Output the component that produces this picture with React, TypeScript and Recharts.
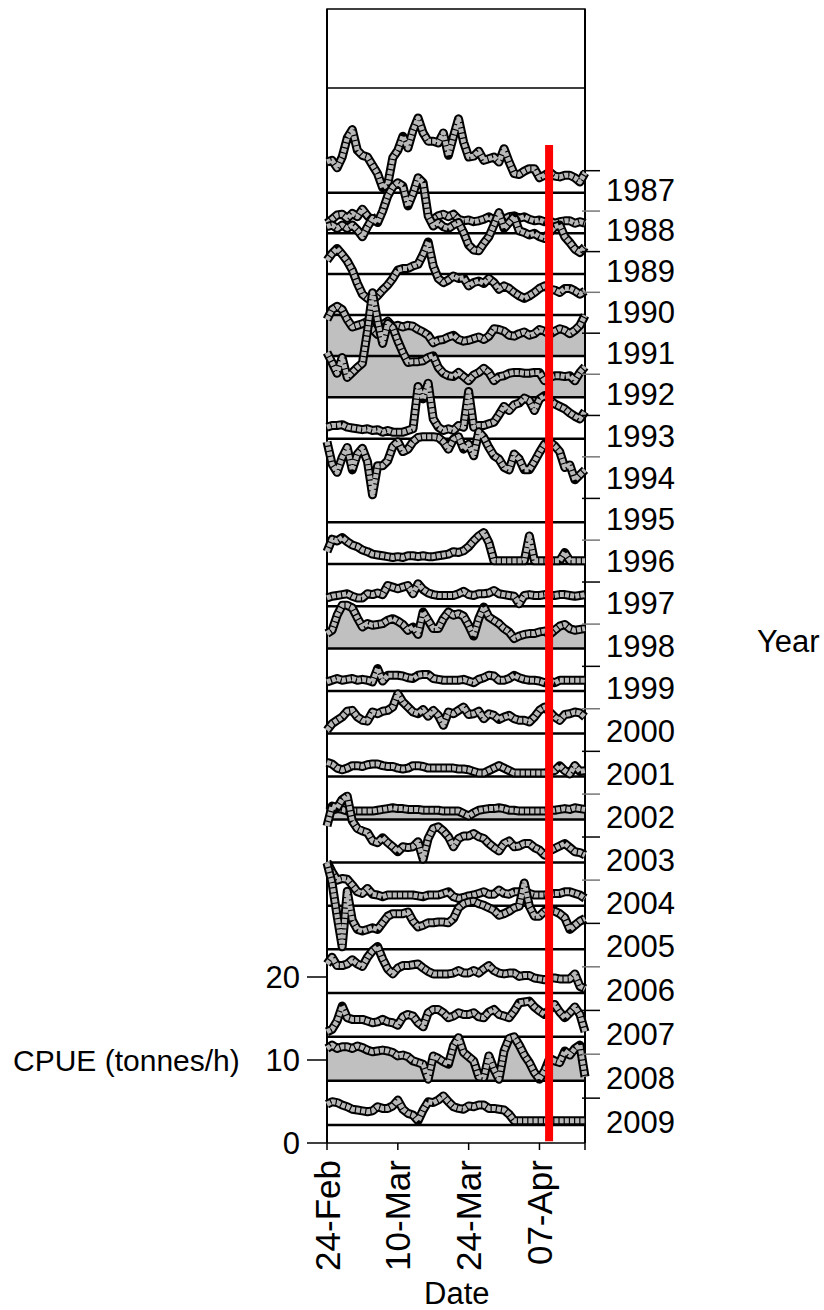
import { ComposedChart, Line, Area, XAxis, YAxis, ReferenceLine, ReferenceArea } from 'recharts'

const FONT = '"Liberation Sans", Arial, sans-serif'

// x axis: days counted from 24-Feb
const dayTicks = [0, 14, 28, 42, 51]
const dayLabels = ['24-Feb', '10-Mar', '24-Mar', '07-Apr']
const cpueTicks = [0, 10, 20]
const markerDay = 43.9

const years = [1987, 1988, 1989, 1990, 1991, 1992, 1993, 1994, 1995, 1996, 1997, 1998,
  1999, 2000, 2001, 2002, 2003, 2004, 2005, 2006, 2007, 2008, 2009]
const filledYears = [1991, 1992, 1998, 2002, 2008]

// daily CPUE (tonnes/h) per season, 24-Feb .. 15-Apr
const cpue1987 = [3.7, 3.9, 3.0, 4.3, 6.6, 7.6, 5.1, 4.5, 4.3, 3.3, 2.3, 0.6, 1.0, 4.2, 5.1, 6.8, 5.4, 7.5, 9.0, 7.2, 6.2, 6.2, 6.0, 7.2, 4.5, 6.8, 8.9, 6.1, 4.3, 4.4, 5.0, 3.9, 4.1, 4.3, 3.7, 5.3, 3.7, 2.3, 2.2, 2.6, 2.9, 2.9, 1.8, 2.1, 2.5, 2.0, 1.9, 2.1, 2.1, 1.8, 1.3, 2.4]
const cpue1988 = [1.2, 1.7, 2.2, 2.3, 1.8, 2.4, 2.0, 2.9, 2.1, 1.5, 2.0, null, null, null, null, null, null, null, null, null, 1.5, 1.7, 2.1, 2.3, 2.0, 2.3, 1.7, 1.5, 1.6, 1.4, 1.5, 1.7, 2.0, 1.6, 2.2, 1.7, 2.0, 2.1, 1.8, 2.0, 1.7, 1.5, 1.6, 1.4, 1.5, 1.2, 1.4, 1.5, 1.5, 1.2, 1.4, 1.2]
const cpue1989 = [5.7, 5.9, 5.5, 5.9, 5.5, 5.9, 5.3, 4.5, 5.7, 6.7, 6.2, 7.6, 9.4, 10.5, 11.0, 10.6, 8.2, 9.7, 11.6, 11.0, 7.0, 5.8, 6.2, 5.7, 5.5, 5.9, 6.2, 5.0, 3.5, 2.9, 2.8, 3.7, 4.5, 5.9, 7.4, 5.5, 6.2, 6.9, 5.2, 5.0, 4.7, 4.9, 4.5, 4.3, 5.0, 5.7, 5.9, 4.5, 3.8, 3.0, 2.6, 3.3]
const cpue1990 = [6.6, 7.4, 8.0, 7.3, 6.5, 5.4, 3.8, 2.5, 2.0, 1.8, 2.3, 3.0, 3.6, 4.4, 5.4, 5.6, 5.6, 5.9, 6.1, 7.3, 8.8, 5.9, 4.4, 3.9, 4.2, 4.7, 4.4, 4.5, 3.5, 3.9, 4.1, 3.8, 4.4, 3.9, 3.1, 3.5, 3.2, 2.7, 2.3, 2.0, 2.3, 2.7, 3.2, 3.5, 3.1, 3.0, 2.7, 3.2, 3.2, 2.9, 2.5, 2.9]
const cpue1991 = [4.4, 5.6, 6.0, 5.6, 4.4, 3.5, 3.7, 3.9, 4.2, 3.2, 2.6, 3.8, 4.2, 3.5, 3.7, 3.5, 3.7, 3.6, 3.2, 2.9, 2.5, 1.6, 1.9, 2.0, 2.3, 2.5, 2.0, 1.8, 1.9, 2.1, 2.3, 2.0, 2.4, 3.3, 3.2, 3.0, 2.5, 2.4, 2.7, 2.9, 2.5, 2.7, 3.2, 3.0, 2.6, 3.0, 3.3, 3.1, 2.7, 3.1, 3.7, 4.9]
const cpue1992 = [5.4, 4.2, 2.9, 4.8, 2.4, 3.0, 3.6, 4.1, 8.0, 12.6, 9.2, 6.5, 8.9, 8.4, 6.8, 5.4, 4.2, 4.3, 4.3, 4.4, 4.8, 5.0, 3.6, 2.9, 2.6, 2.5, 3.0, 2.5, 2.0, 2.7, 3.0, 3.5, 3.0, 2.0, 2.5, 2.6, 2.9, 3.0, 3.0, 2.9, 2.9, 3.0, 3.0, 2.0, 2.4, 2.6, 2.6, 2.5, 2.6, 2.0, 3.0, 3.7]
const cpue1993 = [1.4, 1.6, 1.6, 1.7, 1.4, 1.3, 1.2, 1.1, 1.2, 1.0, 1.1, 0.8, 1.0, 0.8, 0.8, 0.8, 1.0, 1.2, 6.3, 4.8, 6.7, 2.4, 1.4, 1.0, 1.2, 1.0, 1.6, 1.4, 5.7, 1.4, 1.6, 1.6, 1.8, 2.0, 2.9, 3.9, 3.4, 4.1, 4.3, 4.9, 4.6, 3.4, 4.8, 5.2, 4.8, 4.2, 3.9, 3.6, 3.1, 2.7, 2.4, 3.3]
const cpue1994: (number | null)[] = []
const cpue1995 = [9.7, 7.0, 6.0, 7.8, 9.0, 6.3, 8.2, 8.9, 7.3, 3.3, 6.8, 6.8, 7.4, 9.1, 9.7, 8.5, 8.8, 9.7, 10.2, 10.3, 10.3, 10.3, 10.2, 9.7, 8.8, 10.0, 10.3, 8.8, 9.4, 8.0, 10.9, 10.2, 9.0, 8.0, 7.6, 6.6, 6.3, 8.2, 7.6, 6.3, 6.3, 7.3, 8.4, 9.4, 9.7, 9.2, 8.5, 6.6, 6.9, 5.1, 5.7, 6.3]
const cpue1996 = [1.5, 3.0, 2.8, 3.2, 2.7, 2.3, 2.1, 1.7, 1.5, 1.2, 1.1, 1.0, 0.9, 0.8, 0.9, 0.8, 1.0, 1.0, 0.9, 1.0, 0.9, 0.9, 1.0, 1.1, 1.2, 1.5, 1.4, 1.6, 2.1, 2.8, 3.4, 3.8, 2.6, 0.4, 0.4, 0.4, 0.4, 0.4, 0.4, 0.4, 3.4, 0.4, 0.4, 0.4, 0.4, 0.4, 0.4, 1.4, 0.4, 0.4, 0.4, 0.4]
const cpue1997 = [1.0, 1.2, 1.3, 1.4, 1.5, 1.2, 1.0, 1.0, 1.5, 1.4, 1.6, 1.4, 2.5, 2.3, 2.1, 2.3, 2.5, 1.5, 2.7, 2.0, 1.6, 1.4, 1.3, 1.3, 1.3, 1.3, 1.5, 1.8, 1.4, 1.3, 1.5, 1.5, 1.6, 1.9, 1.5, 1.4, 1.3, 1.2, 0.3, 1.3, 1.4, 1.3, 1.3, 1.4, 1.3, 1.3, 1.4, 1.4, 1.3, 1.2, 1.3, 1.4]
const cpue1998 = [1.8, 2.2, 4.0, 5.2, 5.2, 4.9, 3.7, 2.6, 3.0, 2.8, 2.9, 3.0, 3.4, 3.6, 3.3, 2.9, 2.2, 2.6, 1.7, 4.4, 3.4, 2.4, 2.4, 3.6, 4.4, 4.0, 4.2, 3.9, 2.8, 1.5, 3.6, 5.0, 3.8, 3.4, 3.0, 2.4, 2.0, 1.2, 1.5, 1.7, 1.8, 1.8, 2.0, 2.1, 1.7, 2.2, 2.7, 2.9, 2.4, 2.2, 2.3, 2.4]
const cpue1999 = [1.1, 1.3, 1.5, 1.3, 1.4, 1.5, 1.3, 1.4, 1.3, 1.1, 2.7, 1.2, 1.9, 1.9, 1.9, 1.8, 1.6, 1.5, 1.9, 2.0, 2.0, 1.5, 1.4, 1.3, 1.3, 1.3, 1.3, 1.4, 1.2, 1.0, 1.4, 1.6, 1.9, 1.8, 1.3, 1.3, 1.5, 1.9, 1.6, 1.4, 1.3, 1.3, 1.2, 1.0, 1.2, 1.0, 1.3, 1.3, 1.3, 1.3, 1.3, 1.3]
const cpue2000 = [0.4, 1.2, 1.6, 2.0, 2.7, 2.8, 2.0, 1.6, 1.5, 2.6, 2.4, 2.7, 2.8, 3.2, 4.8, 3.8, 3.2, 2.6, 2.4, 2.9, 2.1, 2.8, 2.2, 1.0, 2.6, 2.4, 2.8, 3.2, 2.3, 2.4, 2.7, 1.8, 2.4, 2.2, 1.7, 2.0, 2.2, 1.8, 1.6, 1.6, 1.4, 2.0, 2.8, 3.2, 2.6, 2.0, 1.6, 2.3, 2.4, 2.6, 2.5, 2.0]
const cpue2001 = [1.7, 1.5, 1.0, 0.8, 1.0, 1.3, 1.3, 1.2, 1.4, 1.5, 1.5, 1.3, 1.2, 1.2, 1.0, 0.9, 1.0, 1.3, 1.3, 1.2, 1.0, 1.0, 1.0, 1.0, 1.0, 1.0, 0.9, 0.9, 0.8, 0.6, 0.4, 0.4, 0.7, 1.0, 1.3, 1.0, 0.7, 0.4, 0.4, 0.4, 0.4, 0.4, 0.4, 0.4, 0.6, 0.7, 1.3, 0.7, 0.3, 1.3, 0.6, 0.7]
const cpue2002 = [0.9, 1.1, 1.3, 1.2, 1.0, 1.0, 1.0, 1.0, 1.0, 1.0, 1.1, 1.2, 1.3, 1.4, 1.3, 1.3, 1.2, 1.2, 1.2, 1.1, 1.1, 1.1, 1.1, 1.0, 1.0, 1.0, 1.0, 0.7, 0.4, 0.8, 1.1, 1.2, 1.3, 1.3, 1.4, 1.3, 1.1, 1.1, 1.0, 1.0, 1.0, 1.0, 1.0, 1.0, 1.1, 1.1, 1.2, 1.3, 1.2, 1.4, 1.3, 1.2]
const cpue2003 = [4.4, 6.8, 6.6, 7.6, 8.0, 5.0, 4.1, 3.8, 3.6, 2.6, 2.4, 3.0, 2.4, 1.9, 1.3, 1.9, 1.8, 1.9, 2.5, 0.4, 2.9, 4.1, 4.3, 3.8, 3.1, 1.9, 2.9, 3.2, 3.2, 3.5, 3.1, 2.9, 2.3, 1.8, 1.4, 2.3, 2.6, 1.9, 2.0, 2.3, 2.3, 1.8, 1.5, 0.9, 1.4, 1.7, 2.0, 2.3, 1.8, 1.3, 1.2, 0.9]
const cpue2004 = [5.3, 4.1, 3.1, 3.3, 3.2, 2.5, 1.7, 1.5, 2.1, 1.4, 1.3, 1.1, 1.3, 1.3, 1.3, 1.3, 1.3, 1.3, 1.2, 1.1, 1.3, 1.3, 1.3, 1.5, 1.7, 1.1, 0.9, 1.0, 1.2, 1.3, 1.5, 1.7, 1.4, 1.4, 1.9, 1.5, 1.4, 1.7, 1.7, 1.9, 1.5, 1.3, 1.3, 1.3, 1.4, 1.5, 1.5, 1.7, 1.7, 1.5, 1.3, 0.9]
const cpue2005 = [10.4, 8.0, 4.0, 0.3, 7.0, 3.5, 2.4, 2.2, 2.4, 2.6, 2.4, 3.2, 4.0, 4.3, 4.3, 4.3, 4.5, 3.4, 2.7, 2.9, 3.2, 3.2, 3.3, 3.3, 3.2, 3.7, 5.0, 5.5, 5.7, 5.8, 5.5, 5.3, 5.0, 4.7, 4.1, 4.3, 4.6, 5.0, 5.2, 8.0, 5.2, 4.0, 4.0, 4.6, 4.7, 4.6, 4.3, 3.8, 2.4, 2.9, 3.4, 3.7]
const cpue2006 = [3.5, 4.3, 3.3, 3.3, 3.5, 4.0, 3.5, 3.2, 4.3, 5.1, 5.6, 4.1, 2.9, 2.3, 3.0, 3.3, 3.3, 3.4, 3.5, 3.0, 2.6, 2.3, 2.3, 2.3, 2.3, 2.4, 2.7, 2.4, 2.4, 2.7, 2.4, 2.9, 3.3, 2.7, 2.4, 2.3, 2.4, 2.4, 2.0, 2.1, 2.1, 1.8, 1.7, 1.6, 1.8, 1.8, 1.7, 1.7, 1.7, 2.3, 0.8, 0.5]
const cpue2007 = [0.6, 0.9, 1.9, 3.7, 2.3, 2.1, 2.1, 2.1, 1.9, 1.7, 1.8, 2.1, 1.8, 1.7, 1.4, 2.4, 2.7, 2.5, 1.7, 1.2, 2.9, 3.3, 3.3, 2.9, 2.3, 2.5, 2.9, 2.7, 2.7, 2.9, 2.4, 2.3, 3.0, 3.3, 2.7, 2.5, 2.3, 3.1, 4.1, 4.2, 4.3, 3.6, 3.1, 2.7, 3.3, 3.9, 3.0, 2.3, 2.9, 3.6, 2.7, 0.6]
const cpue2008 = [3.9, 4.3, 3.9, 4.1, 4.1, 3.9, 4.2, 4.0, 3.7, 3.5, 3.6, 3.7, 3.6, 3.4, 3.0, 3.1, 2.9, 2.4, 2.2, 2.0, 0.2, 3.0, 2.7, 2.3, 2.0, 4.2, 5.2, 3.4, 2.9, 2.4, 0.5, 0.4, 3.0, 1.4, 0.2, 3.6, 5.1, 5.3, 4.3, 3.1, 2.2, 1.0, 0.2, 1.2, 2.7, 2.4, 2.2, 3.6, 3.1, 3.9, 4.3, 0.5]
const cpue2009 = [2.5, 2.8, 2.7, 2.4, 2.2, 1.9, 1.8, 1.7, 1.6, 1.7, 2.2, 2.0, 2.0, 2.3, 3.0, 1.9, 1.4, 1.2, 0.5, 1.8, 2.8, 2.7, 3.0, 3.5, 2.8, 2.2, 2.0, 1.9, 2.3, 2.2, 2.4, 2.4, 2.0, 2.0, 1.9, 1.8, 1.3, 0.5, 0.5, 0.5, 0.5, 0.5, 0.5, 0.5, 0.5, 0.5, 0.5, 0.5, 0.5, 0.5, 0.5, 0.5]

const cpueByYear: Record<number, (number | null)[]> = {
  1987: cpue1987, 1988: cpue1988, 1989: cpue1989, 1990: cpue1990, 1991: cpue1991,
  1992: cpue1992, 1993: cpue1993, 1994: cpue1994, 1995: cpue1995, 1996: cpue1996,
  1997: cpue1997, 1998: cpue1998, 1999: cpue1999, 2000: cpue2000, 2001: cpue2001,
  2002: cpue2002, 2003: cpue2003, 2004: cpue2004, 2005: cpue2005, 2006: cpue2006,
  2007: cpue2007, 2008: cpue2008, 2009: cpue2009,
}

// layout (page pixels): plot spans y 9..1143, 8.3 px per tonne/h
const W = 824
const H = 1310
const PLOT_TOP = 9
const PLOT_BOTTOM = 1143
const PX = 8.3
const Y_MAX = (PLOT_BOTTOM - PLOT_TOP) / PX
// rows recede upward with a little perspective
const rowY = (k: number) => 192.7 + 40.5 * k + 0.0853 * k * k
const rowBase = (k: number) => (PLOT_BOTTOM - rowY(k)) / PX
const wallBottom = (PLOT_BOTTOM - 88) / PX

const nDays = 52
const table = Array.from({ length: nDays }, (_, i) => {
  const row: Record<string, number | null> = { day: i }
  years.forEach((yr, k) => {
    const v = cpueByYear[yr][i]
    row['y' + yr] = v == null ? null : rowBase(k) + v
  })
  return row
})

const yearTicks = years.map((_, k) => rowBase(k))

const DayTick = (props: any) => {
  const { x, y, payload } = props
  const label = dayLabels[dayTicks.indexOf(payload.value)]
  if (!label) return null
  return (
    <text x={x} y={y} transform={`rotate(-90 ${x} ${y})`} textAnchor="end" dy="0.36em"
      fontSize={35} fontFamily={FONT} fill="#000">
      {label}
    </text>
  )
}

const YearTick = (props: any) => {
  const { y, payload } = props
  let k = 0
  yearTicks.forEach((t, i) => { if (Math.abs(t - payload.value) < Math.abs(yearTicks[k] - payload.value)) k = i })
  const gap = 22 + 0.22 * k
  return (
    <g>
      <line x1={582} x2={600} y1={y - gap} y2={y - gap} stroke={k % 2 ? '#777' : '#000'} strokeWidth={1.5} />
      <text x={606} y={y - 3} dy="0.36em" fontSize={31} fontFamily={FONT} fill="#000">{years[k]}</text>
    </g>
  )
}

export default function App() {
  return (
    <div style={{ position: 'absolute', left: 0, top: 0, width: W, height: H, background: '#fff', fontFamily: FONT }}>
      <ComposedChart width={W} height={H} data={table} margin={{ top: PLOT_TOP, right: 0, bottom: 0, left: 0 }}>
        <XAxis dataKey="day" type="number" domain={[0, 51]} ticks={dayTicks} interval={0} height={H - PLOT_BOTTOM}
          tick={<DayTick />} tickSize={7} tickMargin={10}
          axisLine={{ stroke: '#000', strokeWidth: 1.5 }} tickLine={{ stroke: '#000', strokeWidth: 1.5 }} />
        <YAxis yAxisId="cpue" type="number" domain={[0, Y_MAX]} ticks={cpueTicks} interval={0} width={327}
          tick={{ fill: '#000', fontSize: 31, fontFamily: FONT }} tickSize={20} tickMargin={7}
          axisLine={false} tickLine={{ stroke: '#000', strokeWidth: 1.5 }} />
        <YAxis yAxisId="yr" orientation="right" type="number" domain={[0, Y_MAX]} ticks={yearTicks} interval={0}
          width={W - 585} tick={<YearTick />} axisLine={false} tickLine={false} />

        <ReferenceArea yAxisId="cpue" x1={0} x2={51} y1={wallBottom} y2={Y_MAX} fill="none" stroke="#000" strokeWidth={1.5} />
        <ReferenceLine yAxisId="cpue" x={0} stroke="#000" strokeWidth={2} />
        <ReferenceLine yAxisId="cpue" x={51} stroke="#000" strokeWidth={2} />

        {years.map((yr, k) => {
          if (!cpueByYear[yr].length) return null
          const key = 'y' + yr
          const base = rowBase(k)
          const items = []
          if (filledYears.includes(yr)) {
            items.push(
              <Area key={key + 'a'} yAxisId="cpue" dataKey={key} baseValue={base} type="linear" fill="#c0c0c0" fillOpacity={1}
                stroke="none" isAnimationActive={false} dot={false} activeDot={false} />
            )
          }
          items.push(<ReferenceLine key={key + 'b'} yAxisId="cpue" y={base} stroke="#000" strokeWidth={2.5} />)
          items.push(
            <Line key={key + 'o'} yAxisId="cpue" dataKey={key} type="linear" stroke="#000" strokeWidth={9} strokeLinejoin="round"
              dot={false} activeDot={false} isAnimationActive={false} />
          )
          items.push(
            <Line key={key + 'g'} yAxisId="yr" dataKey={key} type="linear" stroke="#b8b8b8" strokeWidth={5} strokeDasharray="4 1.2"
              strokeLinejoin="round" dot={false} activeDot={false} isAnimationActive={false} />
          )
          return items
        })}

        <ReferenceLine yAxisId="cpue" segment={[{ x: markerDay, y: 0.2 }, { x: markerDay, y: (PLOT_BOTTOM - 145) / PX }]}
          stroke="#ff0000" strokeWidth={8} />
      </ComposedChart>

      <div style={{ position: 'absolute', left: 13, top: 1045, fontSize: 30, lineHeight: '31px', whiteSpace: 'nowrap' }}>
        CPUE (tonnes/h)
      </div>
      <div style={{ position: 'absolute', left: 757, top: 626, fontSize: 31, lineHeight: '31px' }}>Year</div>
      <div style={{ position: 'absolute', left: 424, top: 1278, fontSize: 31, lineHeight: '31px' }}>Date</div>
    </div>
  )
}
